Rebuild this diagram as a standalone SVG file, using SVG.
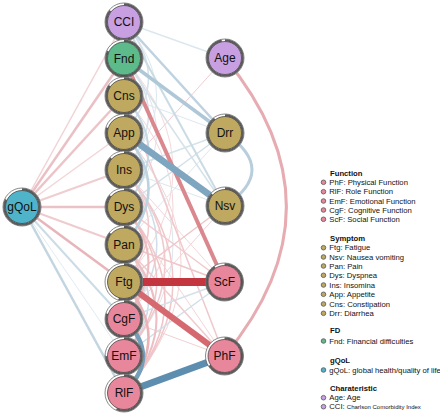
<svg xmlns="http://www.w3.org/2000/svg" width="440" height="415" viewBox="0 0 440 415">
<style>
.e{fill:none}
.ring{fill:#fff;stroke:#555;stroke-width:0.7}
.pie{fill:none;stroke:#5c5c5c;stroke-width:2.2}
.nl{font-family:"Liberation Sans",Arial,sans-serif;font-size:12px;fill:#111;text-anchor:middle}
.lg{font-family:"Liberation Sans",Arial,sans-serif;font-size:7.7px;fill:#111}
.lh{font-weight:bold}
.fn{fill:#E8879B}.sy{fill:#BFA85F}.fd{fill:#5DBB8B}.gq{fill:#4FB4CA}.ch{fill:#C8A0E2}
.in{stroke:#333;stroke-width:0.7}
.dot{stroke:#555;stroke-width:0.8}
</style>
<rect width="440" height="415" fill="#fff"/>
<g id="edges" class="e">
<path d="M124,22 Q189,96 124,170" stroke="#DDE8EF" stroke-width="1"/>
<path d="M124,58.5 Q189,132.75 124,207" stroke="#DAE6ED" stroke-width="1"/>
<path d="M124,133 Q222,244.5 124,356" stroke="#DCE7EE" stroke-width="1"/>
<path d="M124,133 Q238,263 124,393" stroke="#F3D4D7" stroke-width="1"/>
<path d="M124,96 Q222,207.5 124,319" stroke="#F3D5D8" stroke-width="1"/>
<path d="M124,58.5 Q222,170 124,282" stroke="#F4D9DB" stroke-width="1"/>
<path d="M124,22 Q173,77.5 124,133" stroke="#D3E1EA" stroke-width="1.5"/>
<path d="M124,58.5 Q173,114.25 124,170" stroke="#D6E3EB" stroke-width="1.5"/>
<path d="M124,170 Q189.6,244.5 124,319" stroke="#CFDEE8" stroke-width="1.5"/>
<path d="M124,244.5 Q173,300 124,356" stroke="#CCDCE6" stroke-width="1.5"/>
<path d="M124,170 Q222,281.5 124,393" stroke="#F0C7CB" stroke-width="1.5"/>
<path d="M124,207 Q206,300 124,393" stroke="#EFC3C8" stroke-width="1.5"/>
<path d="M124,170 Q206,263 124,356" stroke="#F0C9CD" stroke-width="1.5"/>
<path d="M124,244.5 Q157,281.75 124,319" stroke="#EEC3C7" stroke-width="1.5"/>
<path d="M124,207 Q189.6,281.5 124,356" stroke="#EFC5C9" stroke-width="1.5"/>
<path d="M124,170 Q173,226 124,282" stroke="#F0C9CD" stroke-width="1.5"/>
<line x1="22" y1="207" x2="124" y2="356" stroke="#E2EBF0" stroke-width="1"/>
<line x1="124" y1="96" x2="225" y2="133" stroke="#DDE8EF" stroke-width="1"/>
<line x1="225" y1="58" x2="124" y2="170" stroke="#F2CCD0" stroke-width="1"/>
<line x1="124" y1="244.5" x2="225" y2="133" stroke="#DDE8EE" stroke-width="1"/>
<line x1="124" y1="170" x2="225" y2="206" stroke="#DCE7EE" stroke-width="1"/>
<line x1="225" y1="206" x2="124" y2="319" stroke="#F3D3D6" stroke-width="1"/>
<line x1="124" y1="170" x2="224.5" y2="282" stroke="#F3D6D9" stroke-width="1"/>
<line x1="124" y1="207" x2="224.5" y2="356" stroke="#F3D5D8" stroke-width="1"/>
<line x1="124" y1="319" x2="224.5" y2="356" stroke="#F2D0D3" stroke-width="1"/>
<line x1="22" y1="207" x2="124" y2="22" stroke="#F1D3D6" stroke-width="1.5"/>
<line x1="22" y1="207" x2="124" y2="133" stroke="#F2D6D9" stroke-width="1.5"/>
<line x1="124" y1="22" x2="225" y2="58" stroke="#DCE7EE" stroke-width="1.5"/>
<line x1="124" y1="58.5" x2="225" y2="206" stroke="#D5E2EA" stroke-width="1.5"/>
<line x1="124" y1="170" x2="225" y2="133" stroke="#D5E3EB" stroke-width="1.5"/>
<line x1="124" y1="207" x2="225" y2="133" stroke="#D2E0E9" stroke-width="1.5"/>
<line x1="225" y1="206" x2="124" y2="282" stroke="#F0C5C9" stroke-width="1.5"/>
<line x1="124" y1="96" x2="224.5" y2="356" stroke="#F0C8CC" stroke-width="1.5"/>
<line x1="124" y1="319" x2="224.5" y2="282" stroke="#D3E1EA" stroke-width="1.5"/>
<line x1="124" y1="356" x2="224.5" y2="282" stroke="#D0DFE8" stroke-width="1.5"/>
<line x1="124" y1="244.5" x2="224.5" y2="282" stroke="#EFC6CA" stroke-width="1.5"/>
<line x1="124" y1="207" x2="224.5" y2="282" stroke="#F0CACE" stroke-width="1.5"/>
<line x1="124" y1="244.5" x2="224.5" y2="356" stroke="#F0CBCF" stroke-width="1.5"/>
<line x1="22" y1="207" x2="124" y2="170" stroke="#F0CDD0" stroke-width="2"/>
<line x1="22" y1="207" x2="124" y2="244.5" stroke="#EFCBCF" stroke-width="2"/>
<line x1="22" y1="207" x2="124" y2="319" stroke="#CCDCE6" stroke-width="2"/>
<line x1="124" y1="22" x2="225" y2="206" stroke="#CADBE5" stroke-width="2"/>
<path d="M124,96 Q173,151.5 124,207" stroke="#C6D8E3" stroke-width="2"/>
<path d="M124,244.5 Q189,318.75 124,393" stroke="#EDBEC3" stroke-width="2"/>
<path d="M124,207 Q173,263 124,319" stroke="#EDBCC1" stroke-width="2"/>
<path d="M124,282 Q157,319 124,356" stroke="#EBB8BD" stroke-width="2"/>
<line x1="22" y1="207" x2="124" y2="58.5" stroke="#EBC0C5" stroke-width="2.5"/>
<line x1="22" y1="207" x2="124" y2="96" stroke="#ECC4C8" stroke-width="2.5"/>
<line x1="22" y1="207" x2="124" y2="207" stroke="#EBC2C6" stroke-width="2.5"/>
<line x1="22" y1="207" x2="124" y2="282" stroke="#E8B5BA" stroke-width="2.5"/>
<line x1="22" y1="207" x2="124" y2="393" stroke="#C3D5E1" stroke-width="2.5"/>
<line x1="124" y1="22" x2="225" y2="133" stroke="#BED2DF" stroke-width="2.5"/>
<path d="M124,133 Q173,188.75 124,244.5" stroke="#BDD2DF" stroke-width="2.5"/>
<path d="M124,282 Q173,337.5 124,393" stroke="#EAB3B8" stroke-width="2.5"/>
<path d="M225,133 Q279,170 225,206" stroke="#B8CEDC" stroke-width="3"/>
<path d="M225,58 Q348,207 224.5,356" stroke="#E6ACB2" stroke-width="3"/>
<line x1="124" y1="58.5" x2="225" y2="133" stroke="#AFC8D8" stroke-width="3.5"/>
<line x1="124" y1="58.5" x2="224.5" y2="282" stroke="#DA878E" stroke-width="4"/>
<path d="M124,319 Q162,356 124,393" stroke="#739FBB" stroke-width="4.5"/>
<line x1="124" y1="282" x2="224.5" y2="356" stroke="#D5696F" stroke-width="6"/>
<line x1="124" y1="133" x2="225" y2="206" stroke="#7EA6C0" stroke-width="6.5"/>
<line x1="124" y1="393" x2="224.5" y2="356" stroke="#5D8EAF" stroke-width="7"/>
<line x1="124" y1="282" x2="224.5" y2="282" stroke="#C3353F" stroke-width="8"/>
</g>
<g id="nodes">
<g id="CCI" transform="translate(124,22)"><circle r="19" class="ring"/><circle r="17.7" class="pie" pathLength="100" stroke-dasharray="86 100" transform="rotate(-90)"/><circle r="16.5" class="ch in"/><text y="4.2" class="nl">CCI</text></g>
<g id="Fnd" transform="translate(124,58.5)"><circle r="19" class="ring"/><circle r="17.7" class="pie" pathLength="100" stroke-dasharray="82 100" transform="rotate(-90)"/><circle r="16.5" class="fd in"/><text y="4.2" class="nl">Fnd</text></g>
<g id="Cns" transform="translate(124,96)"><circle r="19" class="ring"/><circle r="17.7" class="pie" pathLength="100" stroke-dasharray="85 100" transform="rotate(-90)"/><circle r="16.5" class="sy in"/><text y="4.2" class="nl">Cns</text></g>
<g id="App" transform="translate(124,133)"><circle r="19" class="ring"/><circle r="17.7" class="pie" pathLength="100" stroke-dasharray="80 100" transform="rotate(-90)"/><circle r="16.5" class="sy in"/><text y="4.2" class="nl">App</text></g>
<g id="Ins" transform="translate(124,170)"><circle r="19" class="ring"/><circle r="17.7" class="pie" pathLength="100" stroke-dasharray="87 100" transform="rotate(-90)"/><circle r="16.5" class="sy in"/><text y="4.2" class="nl">Ins</text></g>
<g id="Dys" transform="translate(124,207)"><circle r="19" class="ring"/><circle r="17.7" class="pie" pathLength="100" stroke-dasharray="86 100" transform="rotate(-90)"/><circle r="16.5" class="sy in"/><text y="4.2" class="nl">Dys</text></g>
<g id="Pan" transform="translate(124,244.5)"><circle r="19" class="ring"/><circle r="17.7" class="pie" pathLength="100" stroke-dasharray="86 100" transform="rotate(-90)"/><circle r="16.5" class="sy in"/><text y="4.2" class="nl">Pan</text></g>
<g id="Ftg" transform="translate(124,282)"><circle r="19" class="ring"/><circle r="17.7" class="pie" pathLength="100" stroke-dasharray="55 100" transform="rotate(-90)"/><circle r="16.5" class="sy in"/><text y="4.2" class="nl">Ftg</text></g>
<g id="CgF" transform="translate(124,319)"><circle r="19" class="ring"/><circle r="17.7" class="pie" pathLength="100" stroke-dasharray="80 100" transform="rotate(-90)"/><circle r="16.5" class="fn in"/><text y="4.2" class="nl">CgF</text></g>
<g id="EmF" transform="translate(124,356)"><circle r="19" class="ring"/><circle r="17.7" class="pie" pathLength="100" stroke-dasharray="75 100" transform="rotate(-90)"/><circle r="16.5" class="fn in"/><text y="4.2" class="nl">EmF</text></g>
<g id="RlF" transform="translate(124,393)"><circle r="19" class="ring"/><circle r="17.7" class="pie" pathLength="100" stroke-dasharray="57 100" transform="rotate(-90)"/><circle r="16.5" class="fn in"/><text y="4.2" class="nl">RlF</text></g>
<g id="Age" transform="translate(225,58)"><circle r="19" class="ring"/><circle r="17.7" class="pie" pathLength="100" stroke-dasharray="97 100" transform="rotate(-90)"/><circle r="16.5" class="ch in"/><text y="4.2" class="nl">Age</text></g>
<g id="Drr" transform="translate(225,133)"><circle r="19" class="ring"/><circle r="17.7" class="pie" pathLength="100" stroke-dasharray="90 100" transform="rotate(-90)"/><circle r="16.5" class="sy in"/><text y="4.2" class="nl">Drr</text></g>
<g id="Nsv" transform="translate(225,206)"><circle r="19" class="ring"/><circle r="17.7" class="pie" pathLength="100" stroke-dasharray="87 100" transform="rotate(-90)"/><circle r="16.5" class="sy in"/><text y="4.2" class="nl">Nsv</text></g>
<g id="ScF" transform="translate(224.5,282)"><circle r="19" class="ring"/><circle r="17.7" class="pie" pathLength="100" stroke-dasharray="91 100" transform="rotate(-90)"/><circle r="16.5" class="fn in"/><text y="4.2" class="nl">ScF</text></g>
<g id="PhF" transform="translate(224.5,356)"><circle r="19" class="ring"/><circle r="17.7" class="pie" pathLength="100" stroke-dasharray="66 100" transform="rotate(-90)"/><circle r="16.5" class="fn in"/><text y="4.2" class="nl">PhF</text></g>
<g id="gQoL" transform="translate(22,207)"><circle r="19" class="ring"/><circle r="17.7" class="pie" pathLength="100" stroke-dasharray="82 100" transform="rotate(-90)"/><circle r="16.5" class="gq in"/><text y="4.2" class="nl">gQoL</text></g>
</g>
<g id="legend" class="lg">
<text x="330" y="176" class="lh">Function</text>
<circle cx="323.5" cy="182.3" r="2.3" class="fn dot"/><text x="329.3" y="185">PhF: Physical Function</text>
<circle cx="323.5" cy="191.7" r="2.3" class="fn dot"/><text x="329.3" y="194.4">RlF: Role Function</text>
<circle cx="323.5" cy="201" r="2.3" class="fn dot"/><text x="329.3" y="203.7">EmF: Emotional Function</text>
<circle cx="323.5" cy="210" r="2.3" class="fn dot"/><text x="329.3" y="212.7">CgF: Cognitive Function</text>
<circle cx="323.5" cy="219.3" r="2.3" class="fn dot"/><text x="329.3" y="222">ScF: Social Function</text>
<text x="330" y="241" class="lh">Symptom</text>
<circle cx="323.5" cy="247.7" r="2.3" class="sy dot"/><text x="329.3" y="250.4">Ftg: Fatigue</text>
<circle cx="323.5" cy="257" r="2.3" class="sy dot"/><text x="329.3" y="259.7">Nsv: Nausea vomiting</text>
<circle cx="323.5" cy="266" r="2.3" class="sy dot"/><text x="329.3" y="268.7">Pan: Pain</text>
<circle cx="323.5" cy="275.3" r="2.3" class="sy dot"/><text x="329.3" y="278">Dys: Dyspnea</text>
<circle cx="323.5" cy="285" r="2.3" class="sy dot"/><text x="329.3" y="287.7">Ins: Insomina</text>
<circle cx="323.5" cy="294.3" r="2.3" class="sy dot"/><text x="329.3" y="297">App: Appetite</text>
<circle cx="323.5" cy="304" r="2.3" class="sy dot"/><text x="329.3" y="306.7">Cns: Constipation</text>
<circle cx="323.5" cy="313.3" r="2.3" class="sy dot"/><text x="329.3" y="316">Drr: Diarrhea</text>
<text x="330" y="333.4" class="lh">FD</text>
<circle cx="323.5" cy="341" r="2.3" class="fd dot"/><text x="329.3" y="343.7">Fnd: Financial difficulties</text>
<text x="330" y="362.7" class="lh">gQoL</text>
<circle cx="323.5" cy="370" r="2.3" class="gq dot"/><text x="329.3" y="372.7">gQoL: global health/quality of life</text>
<text x="330" y="391" class="lh">Charateristic</text>
<circle cx="323.5" cy="397.7" r="2.3" class="ch dot"/><text x="329.3" y="400.4">Age: Age</text>
<circle cx="323.5" cy="406.7" r="2.3" class="ch dot"/><text x="329.3" y="409.4">CCI: <tspan font-size="6">Charlson Comorbidity Index</tspan></text>
</g>
</svg>
